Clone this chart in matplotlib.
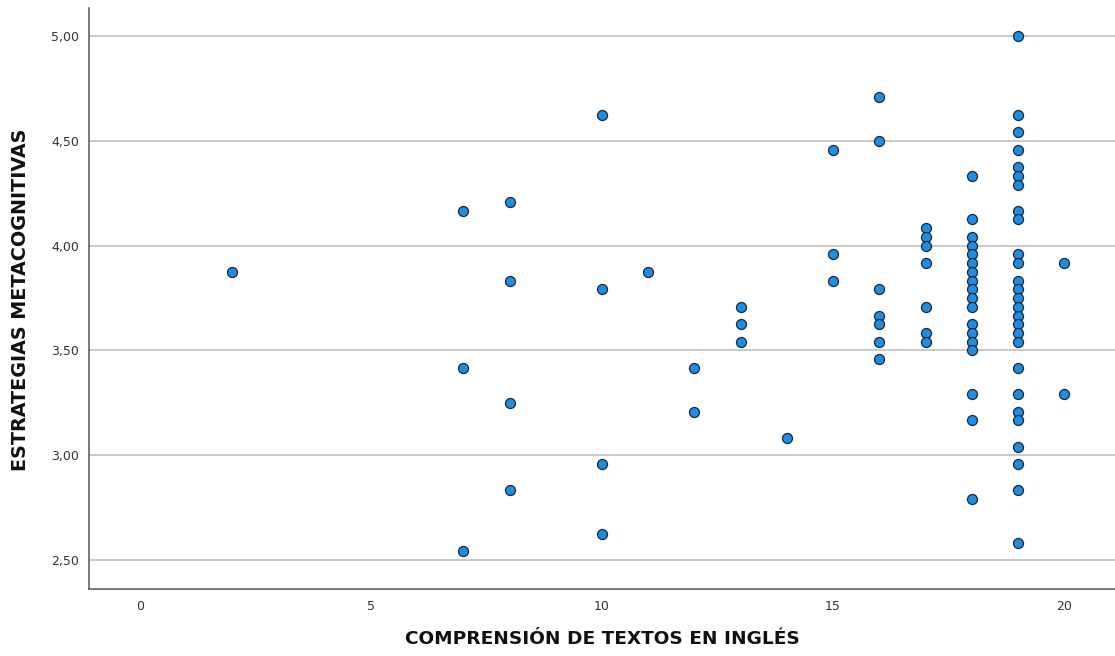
import matplotlib
matplotlib.use("Agg")
import matplotlib.pyplot as plt
from matplotlib.ticker import FuncFormatter, FixedLocator

# scores on the 24-item scale (steps of 1/24)
comp = (
    [2]
    + [7] * 3
    + [8] * 4
    + [10] * 4
    + [11]
    + [12] * 2
    + [13] * 3
    + [14]
    + [15] * 3
    + [16] * 7
    + [17] * 7
    + [18] * 18
    + [19] * 27
    + [20] * 2
)
estr = (
    [3.875]
    + [4.1667, 3.4167, 2.5417]
    + [4.2083, 3.8333, 3.25, 2.8333]
    + [4.625, 3.7917, 2.9583, 2.625]
    + [3.875]
    + [3.4167, 3.2083]
    + [3.7083, 3.625, 3.5417]
    + [3.0833]
    + [4.4583, 3.9583, 3.8333]
    + [4.7083, 4.5, 3.7917, 3.6667, 3.625, 3.5417, 3.4583]
    + [4.0833, 4.0417, 4.0, 3.9167, 3.7083, 3.5833, 3.5417]
    + [4.3333, 4.125, 4.0417, 4.0, 3.9583, 3.9167, 3.875, 3.8333, 3.7917,
       3.75, 3.7083, 3.625, 3.5833, 3.5417, 3.5, 3.2917, 3.1667, 2.7917]
    + [5.0, 4.625, 4.5417, 4.4583, 4.375, 4.3333, 4.2917, 4.1667, 4.125,
       3.9583, 3.9167, 3.8333, 3.7917, 3.75, 3.7083, 3.6667, 3.625, 3.5833,
       3.5417, 3.4167, 3.2917, 3.2083, 3.1667, 3.0417, 2.9583, 2.8333, 2.5833]
    + [3.9167, 3.2917]
)

x_ticks = [0, 5, 10, 15, 20]
y_ticks = [2.5, 3.0, 3.5, 4.0, 4.5, 5.0]

fig = plt.figure(figsize=(11.15, 6.56), dpi=100)
ax = fig.add_axes([0.0798, 0.1021, 0.9202, 0.8857])

ax.set_xlim(-1.1, 21.1)
ax.set_ylim(2.362, 5.134)

for v in y_ticks:
    ax.axhline(v, color="#c9c9c9", lw=1.4, zorder=1)

ax.scatter(comp, estr, s=52, c="#1c8ee6", edgecolors="#1e2630", linewidths=0.9,
           zorder=3)

ax.xaxis.set_major_locator(FixedLocator(x_ticks))
ax.yaxis.set_major_locator(FixedLocator(y_ticks))
ax.yaxis.set_major_formatter(FuncFormatter(lambda v, p: f"{v:.2f}".replace(".", ",")))
ax.tick_params(length=0, labelsize=9, colors="#333333")
ax.tick_params(axis="y", pad=7)
ax.tick_params(axis="x", pad=8)

for s in ["top", "right"]:
    ax.spines[s].set_visible(False)
for s in ["left", "bottom"]:
    ax.spines[s].set_color("#555555")
    ax.spines[s].set_linewidth(1.1)

ax.set_xlabel("COMPRENSIÓN DE TEXTOS EN INGLÉS", fontsize=13.3, fontweight="bold",
              color="#111111", va="center")
ax.set_ylabel("ESTRATEGIAS METACOGNITIVAS", fontsize=13.8, fontweight="bold",
              color="#111111", va="center")
ax.xaxis.set_label_coords(0.5, -0.086)
ax.yaxis.set_label_coords(-0.067, 0.497)

fig.savefig("out.png", dpi=100)
